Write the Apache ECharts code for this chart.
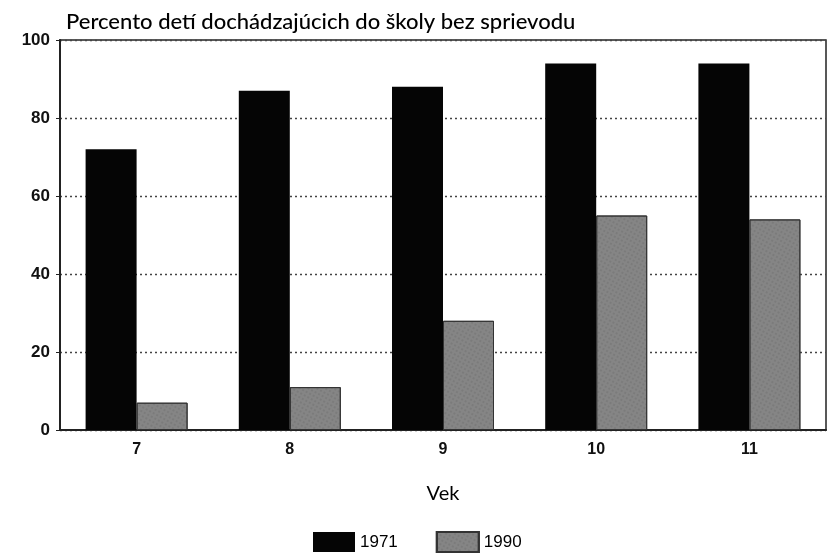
<!DOCTYPE html>
<html>
<head>
<meta charset="utf-8">
<script src="https://cdn.jsdelivr.net/npm/echarts@6/dist/echarts.min.js"></script>
<style>
  html, body { margin: 0; padding: 0; background: #fff; }
  #chart { width: 831px; height: 554px; }
</style>
</head>
<body>
<div id="chart"></div>
<script>
const ages = ['7', '8', '9', '10', '11']
const y1971 = [72, 87, 88, 94, 94]
const y1990 = [7, 11, 28, 55, 54]

const chart = echarts.init(document.getElementById('chart'))
chart.setOption({
  animation: false,
  backgroundColor: '#fff',
  title: {
    text: 'Percento detí dochádzajúcich do školy bez sprievodu',
    left: 61, top: 6,
    textStyle: { fontFamily: 'Lato', fontSize: 22, fontWeight: 500, color: '#000' }
  },
  legend: {
    top: 526, left: 308,
    itemWidth: 42, itemHeight: 20, itemGap: 38,
    icon: 'rect',
    textStyle: { fontFamily: 'Liberation Sans', fontSize: 17, color: '#000' },
    data: ['1971', '1990']
  },
  grid: {
    left: 60, right: 5, top: 40, bottom: 124,
    show: true, borderColor: '#222', borderWidth: 1.5
  },
  xAxis: {
    type: 'category', data: ages,
    name: 'Vek', nameLocation: 'middle', nameGap: 54,
    nameTextStyle: { fontFamily: 'Lato', fontSize: 20, color: '#000' },
    axisLine: { lineStyle: { color: '#222', width: 2 } },
    axisTick: { show: false },
    axisLabel: { fontFamily: 'Liberation Sans', fontWeight: 'bold', fontSize: 16, color: '#111', margin: 12 }
  },
  yAxis: {
    type: 'value', min: 0, max: 100, interval: 20,
    axisLine: { show: true, lineStyle: { color: '#222', width: 2 } },
    axisTick: { show: true, length: 4, lineStyle: { color: '#222' } },
    axisLabel: { fontFamily: 'Liberation Sans', fontWeight: 'bold', fontSize: 17, color: '#111', margin: 10 },
    splitLine: { lineStyle: { type: [2, 3], color: '#444', width: 1.3 } }
  },
  series: [
    { name: '1971', type: 'bar', data: y1971, barWidth: 51, barGap: '0%',
      itemStyle: { color: '#050505' } },
    { name: '1990', type: 'bar', data: y1990, barWidth: 51,
      itemStyle: {
        color: '#858585', borderColor: '#333', borderWidth: 1,
        decal: { color: 'rgba(40,40,40,0.35)', symbol: 'rect', symbolSize: 0.6,
                 dashArrayX: [2, 2], dashArrayY: [2, 2], rotation: 0.5 }
      } }
  ]
})
</script>
</body>
</html>
